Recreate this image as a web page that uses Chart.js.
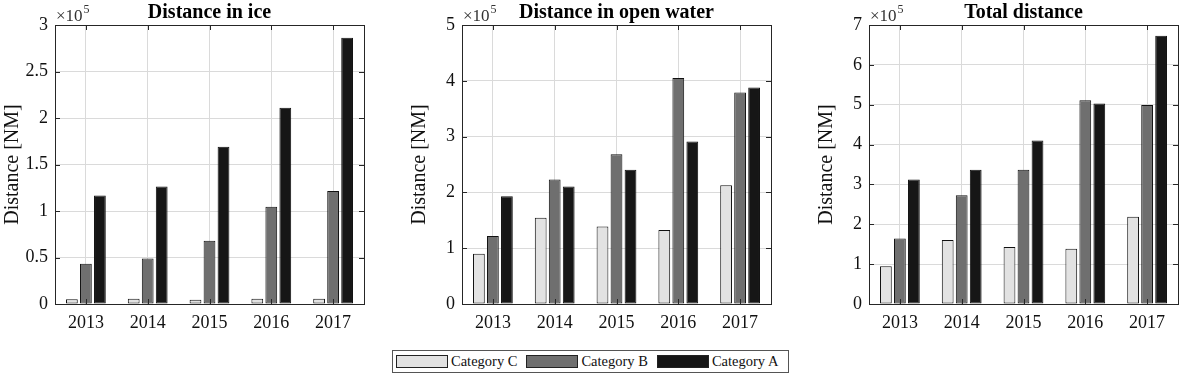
<!DOCTYPE html>
<html>
<head>
<meta charset="utf-8">
<script src="https://cdn.jsdelivr.net/npm/chart.js@4"></script>
<style>
body{margin:0;background:#fff;width:1184px;height:376px;position:relative;overflow:hidden;font-family:"Liberation Serif","Times New Roman",serif;}
canvas{position:absolute;top:0;}
#legend{position:absolute;left:392px;top:350px;width:395px;height:21px;border:1px solid #555;display:flex;align-items:center;font-size:14.5px;color:#111;white-space:nowrap;}
.item{display:flex;align-items:center;flex-shrink:0;margin-right:9px;}
.item:first-child{margin-left:3px;}
.sw{width:50px;height:11px;border:1px solid #222;margin-right:3px;flex-shrink:0;}
</style>
</head>
<body>
<canvas id="c1" width="370" height="340" style="left:0px"></canvas>
<canvas id="c2" width="370" height="340" style="left:407px"></canvas>
<canvas id="c3" width="370" height="340" style="left:814px"></canvas>
<div id="legend"></div>
<script>

const years = ["2013","2014","2015","2016","2017"];
const categories = ["Category C","Category B","Category A"];
const colors = ["#e2e2e2","#6f6f6f","#161616"];

// distances in NM
const iceC = [5000,5700,4700,5700,5700];
const iceB = [43300,49000,68000,104500,121400];
const iceA = [116700,126400,169000,210900,286400];

const waterC = [90000,154500,139000,132500,213000];
const waterB = [121700,223000,268500,405000,379000];
const waterA = [193300,210600,240500,291000,388000];

const totalC = [94400,160400,143000,138700,219000];
const totalB = [164600,273000,337000,511000,499000];
const totalA = [312500,337000,410000,503000,673000];

const titles = ["Distance in ice","Distance in open water","Total distance"];
const yMax = [300000,500000,700000];
const yStep = [50000,100000,100000];

const serif = "'Liberation Serif','Times New Roman',serif";

const framePlugin = {
id:"frame",
afterDraw(chart, args, opts){
const ctx = chart.ctx;
const a = chart.chartArea;
const xs = chart.scales.x;
const ys = chart.scales.y;
ctx.save();
ctx.strokeStyle = "#262626";
ctx.lineWidth = 1;
// inward ticks
ctx.beginPath();
ys.ticks.forEach(t=>{
const y = Math.round(ys.getPixelForValue(t.value))+0.5;
ctx.moveTo(a.left,y); ctx.lineTo(a.left+5,y);
ctx.moveTo(a.right,y); ctx.lineTo(a.right-5,y);
});
xs.ticks.forEach((t,i)=>{
const x = Math.round(xs.getPixelForTick(i))+0.5;
ctx.moveTo(x,a.bottom); ctx.lineTo(x,a.bottom-5);
ctx.moveTo(x,a.top); ctx.lineTo(x,a.top+5);
});
ctx.stroke();
ctx.strokeRect(Math.round(a.left)+0.5,Math.round(a.top)+0.5,Math.round(a.right-a.left),Math.round(a.bottom-a.top));
// title
ctx.fillStyle = "#000";
ctx.textAlign = "center";
ctx.textBaseline = "alphabetic";
ctx.font = "bold 20px "+serif;
ctx.fillText(opts.title,(a.left+a.right)/2,18);
// exponent
ctx.textAlign = "left";
ctx.fillStyle = "#333";
ctx.font = "17px "+serif;
ctx.fillText("\u00d710",a.left+1,21);
const w = ctx.measureText("\u00d710").width;
ctx.font = "12px "+serif;
ctx.fillText("5",a.left+w+2,13);
ctx.restore();
}
};

function makeChart(id, idx, c, b, a){

const ctx = document.getElementById(id);

return new Chart(ctx,{

type:"bar",

data:{
labels:years,
datasets:[c,b,a].map((d,i)=>({
label:categories[i],
data:d,
backgroundColor:colors[i],
borderColor:"#111",
borderWidth:1,
borderSkipped:false,
categoryPercentage:0.68,
barPercentage:0.84
}))
},

options:{

responsive:false,
animation:false,
devicePixelRatio:1,

layout:{padding:{top:25,right:6,left:0,bottom:0}},

plugins:{
legend:{display:false},
tooltip:{enabled:false},
frame:{title:titles[idx]}
},

scales:{

x:{
grid:{color:"#dadada",offset:false,drawTicks:false},
border:{display:false},
ticks:{color:"#111",padding:8,font:{family:serif,size:18}},
afterFit:s=>{s.height=36;}
},

y:{
min:0,
max:yMax[idx],
grid:{color:"#dadada",drawTicks:false},
border:{display:false},
ticks:{
stepSize:yStep[idx],
color:"#111",
padding:7,
font:{family:serif,size:18},
callback:v=>String(v/100000)
},
title:{display:true,text:"Distance [NM]",color:"#111",font:{family:serif,size:20},padding:{top:1,bottom:0}},
afterFit:s=>{s.width=55;}
}

}

},

plugins:[framePlugin]

});

}

makeChart("c1",0,iceC,iceB,iceA);
makeChart("c2",1,waterC,waterB,waterA);
makeChart("c3",2,totalC,totalB,totalA);

const legend = document.getElementById("legend");
categories.forEach((name,i)=>{
const item = document.createElement("div");
item.className = "item";
const sw = document.createElement("div");
sw.className = "sw";
sw.style.background = colors[i];
const label = document.createElement("span");
label.textContent = name;
item.appendChild(sw);
item.appendChild(label);
legend.appendChild(item);
});

</script>
</body>
</html>
